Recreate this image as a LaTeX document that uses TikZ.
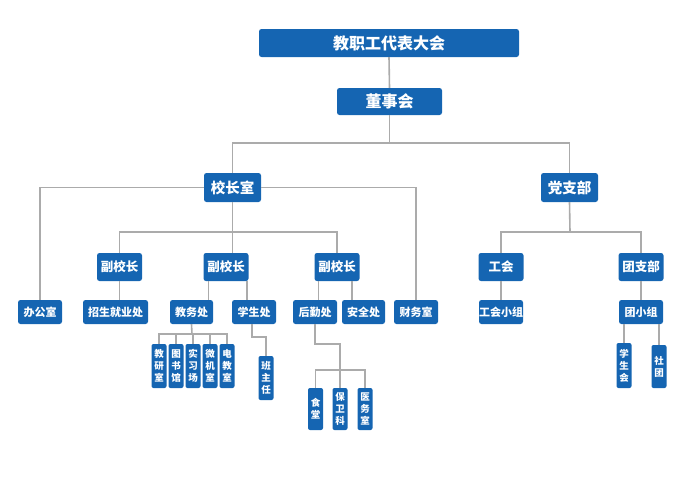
\documentclass[tikz,border=0pt]{standalone}
\usepackage{fontspec}
\newfontfamily\cjk{Noto Sans CJK SC}
\definecolor{orgblue}{HTML}{1565B2}
\definecolor{linegray}{HTML}{ABABAB}
\tikzset{
  org/.style={fill=orgblue, rounded corners=2.5pt, text=white, inner sep=0pt, align=center},
  topbox/.style={org, minimum height=28pt, font=\cjk\bfseries\fontsize{16}{16}\selectfont},
  headbox/.style={org, minimum width=57pt, minimum height=29pt, font=\cjk\bfseries\fontsize{14.5}{14.5}\selectfont},
  deputybox/.style={org, minimum width=45pt, minimum height=28pt, font=\cjk\bfseries\fontsize{12.5}{12.5}\selectfont},
  officebox/.style={org, minimum width=44pt, minimum height=24pt, font=\cjk\bfseries\fontsize{11}{11}\selectfont},
  tallbox/.style={org, rounded corners=2pt, minimum width=15pt, font=\cjk\bfseries\fontsize{9.5}{12}\selectfont},
  link/.style={draw=linegray, line width=1.6pt}
}
\begin{document}
\begin{tikzpicture}[x=1pt,y=-1pt]
  \useasboundingbox (0,0) rectangle (700,498);
  % top levels
  \node[topbox, minimum width=260pt] (dbdh) at (389,43) {教职工代表大会};
  \node[topbox, minimum width=105pt, minimum height=27pt] (dsh) at (389.5,101.5) {董事会};
  \node[headbox] (xzs) at (232.5,187.5) {校长室};
  \node[headbox] (dzb) at (569.5,187.5) {党支部};
  % deputies and branches
  \node[deputybox] (fxz1) at (119.5,267) {副校长};
  \node[deputybox] (fxz2) at (226,267) {副校长};
  \node[deputybox] (fxz3) at (337,267) {副校长};
  \node[deputybox] (gh) at (501,267) {工会};
  \node[deputybox] (tzb) at (641,267) {团支部};
  % offices
  \node[officebox] (bgs) at (40,312) {办公室};
  \node[officebox, minimum width=65pt] (zsjy) at (115.5,312) {招生就业处};
  \node[officebox, minimum width=43pt] (jwc) at (191.5,312) {教务处};
  \node[officebox] (xsc) at (254,312) {学生处};
  \node[officebox] (hqc) at (315,312) {后勤处};
  \node[officebox, minimum width=43pt] (aqc) at (363.5,312) {安全处};
  \node[officebox] (cws) at (416,312) {财务室};
  \node[officebox] (ghxz) at (501,312) {工会小组};
  \node[officebox] (txz) at (641,312) {团小组};
  % rooms under 教务处
  \foreach \name/\x/\txt in {jys/159/教\\研\\室, tsg/176/图\\书\\馆, sxc/193/实\\习\\场,
                             wjs/210/微\\机\\室, djs/227/电\\教\\室} {
    \node[tallbox, minimum height=44pt] (\name) at (\x,366) {\txt};
  }
  \node[tallbox, minimum height=44pt] (bzr) at (266,378) {班\\主\\任};
  % rooms under 后勤处
  \foreach \name/\x/\txt in {st/315.5/食\\堂, bwk/340/保\\卫\\科, yws/365/医\\务\\室} {
    \node[tallbox, minimum height=42pt] (\name) at (\x,409) {\txt};
  }
  \node[tallbox, minimum height=45pt] (xsh) at (624,365.5) {学\\生\\会};
  \node[tallbox, minimum height=43pt] (stu) at (659,366.5) {社\\团};
  % buses
  \coordinate (bus0) at (390,143);
  \coordinate (bus1) at (233,232);
  \coordinate (bus2) at (570,232);
  \coordinate (bus3) at (192,334);
  \coordinate (bus4) at (340,370);
  % connectors
  \draw[link] (dbdh.south) -- (dsh.north);
  \draw[link] (dsh.south) -- (dsh.south |- bus0);
  \draw[link] (xzs.north) |- (bus0) -| (dzb.north);
  \draw[link] (bgs.north) |- (xzs.west);
  \draw[link] (xzs.east) -| (cws.north);
  \draw[link] (xzs.south) -- (xzs.south |- fxz2.north);
  \draw[link] (fxz1.north) |- (bus1) -| (fxz3.north);
  \draw[link] (fxz1.south) -- (fxz1.south |- zsjy.north);
  \draw[link] ([xshift=5pt]fxz2.south west) -- ([xshift=5pt]fxz2.south west |- jwc.north);
  \draw[link] ([xshift=-2pt]fxz2.south east) -- ([xshift=-2pt]fxz2.south east |- xsc.north);
  \draw[link] ([xshift=4pt]fxz3.south west) -- ([xshift=4pt]fxz3.south west |- hqc.north);
  \draw[link] ([xshift=-8pt]fxz3.south east) -- ([xshift=-8pt]fxz3.south east |- aqc.north);
  \draw[link] (dzb.south) -- (bus2);
  \draw[link] (gh.north) |- (bus2) -| (tzb.north);
  \draw[link] (gh.south) -- (ghxz.north);
  \draw[link] (tzb.south) -- (txz.north);
  \draw[link] (xsh.north |- txz.south) -- (xsh.north);
  \draw[link] (stu.north |- txz.south) -- (stu.north);
  \draw[link] (jwc.south) -- (bus3);
  \foreach \name in {jys, tsg, sxc, wjs, djs} {
    \draw[link] (\name.north) |- (bus3);
  }
  \draw[link] ([xshift=-2pt]xsc.south) -- ++(0,13) -| (bzr.north);
  \draw[link] (hqc.south) -- ++(0,20) -| (bwk.north);
  \draw[link] (st.north) |- (bus4) -| (yws.north);
\end{tikzpicture}
\end{document}
